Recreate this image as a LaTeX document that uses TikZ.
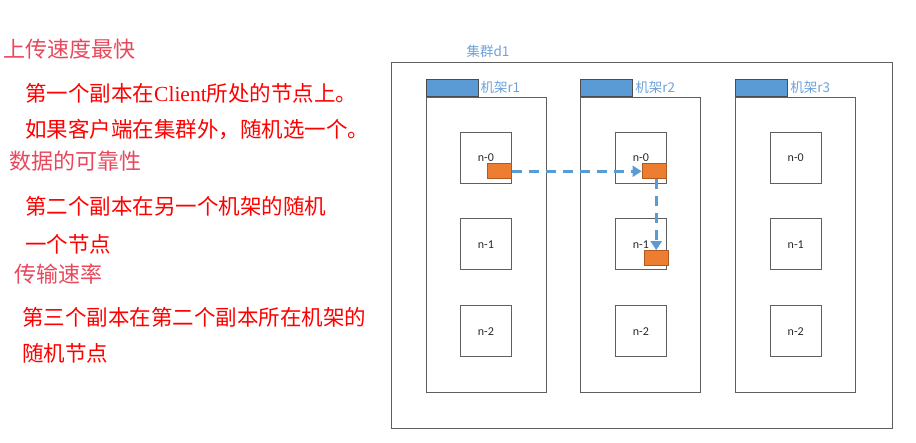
\documentclass[tikz,border=0pt]{standalone}
\usepackage{fontspec}
\setmainfont{Liberation Serif}
\newfontfamily\cjk{Noto Sans CJK SC}
\newfontfamily\calib{Carlito}
\usepackage{tikz}
\usetikzlibrary{arrows.meta}
\usetikzlibrary{positioning}
\definecolor{boxgray}{RGB}{95,95,95}
\definecolor{headblue}{RGB}{91,155,213}
\definecolor{textblue}{RGB}{110,162,218}
\definecolor{repfill}{RGB}{237,125,49}
\definecolor{repline}{RGB}{174,90,33}
\definecolor{headred}{RGB}{232,72,92}
\newcommand\serversize{51pt}
\newcommand\gapsize{35pt}
\tikzset{
    cluster/.style = {draw=boxgray, line width=1pt, minimum width=501pt, minimum height=366pt, inner sep=0pt},
    rack/.style = {draw=boxgray, line width=0.9pt, minimum width=120pt, minimum height=295pt, inner sep=0pt},
    rackhead/.style = {draw=boxgray!80!black, fill=headblue, line width=0.8pt, minimum width=52pt, minimum height=17pt, inner sep=0pt, anchor=south west},
    server/.style = {draw=boxgray, line width=0.9pt, minimum size=\serversize, inner sep=0pt, font=\calib\fontsize{12}{14}\selectfont, text=black!85},
    replica/.style = {draw=repline, fill=repfill, line width=1.2pt, minimum width=24pt, minimum height=15pt, inner sep=0pt},
    copyline/.style = {draw=headblue, line width=3pt, dash pattern=on 10pt off 7pt, -{Triangle[length=9pt,width=11pt]}},
}
\tikzset{
    rackname/.style = {anchor=west, inner sep=2pt, text=textblue, font=\cjk\fontsize{13.5}{15}\selectfont},
    heading/.style = {anchor=west, inner sep=0pt, text=headred, font=\cjk\fontsize{22}{24}\selectfont},
    note/.style = {anchor=west, inner sep=0pt, text=red, font=\cjk\fontsize{21.5}{24}\selectfont},
}

\begin{document}
\begin{tikzpicture}[x=1pt,y=-1pt]
    \useasboundingbox (0,0) rectangle (916,442);
    \node(t1)[heading] at (3,49) {上传速度最快};
    \node(t2)[note] at (25,93) {第一个副本在{\rmfamily Client}所处的节点上。};
    \node(t3)[note] at (25,130) {如果客户端在集群外，随机选一个。};
    \node(t4)[heading] at (9,161) {数据的可靠性};
    \node(t5)[note] at (25,206) {第二个副本在另一个机架的随机};
    \node(t6)[note] at (25,244) {一个节点};
    \node(t7)[heading] at (14,274) {传输速率};
    \node(t8)[note] at (22,317) {第三个副本在第二个副本所在机架的};
    \node(t9)[note] at (22,353) {随机节点};
    \node(cl)[cluster] at (641.5,245) {};
    \node(d1)[rackname, anchor=center] at (488,51) {集群d1};
    \node(r1)[rack, below right=\gapsize and \gapsize of cl.north west] {};
    \node(r2)[rack, right=34pt of r1] {};
    \node(r3)[rack, right=34pt of r2] {};
    \foreach \rk in {r1,r2,r3}{
        \node(\rk h)[rackhead] at (\rk.north west) {};
        \node[rackname] at (\rk h.east) {机架\rk};
        \node(\rk n0)[server, below=\gapsize of \rk.north] {n-0};
        \node(\rk n1)[server, below=\gapsize of \rk n0] {n-1};
        \node(\rk n2)[server, below=\gapsize of \rk n1] {n-2};
    }
    \node(rep1)[replica, above left=4pt and 0pt of r1n0.south east] {};
    \node(rep2)[replica, above left=4pt and 0pt of r2n0.south east] {};
    \node(rep3)[replica, above left=4pt and -2pt of r2n1.south east] {};
    \draw[copyline] (rep1) -- (rep2);
    \draw[copyline] (rep2.south -| rep3.north) -- (rep3.north);
\end{tikzpicture}
\end{document}
